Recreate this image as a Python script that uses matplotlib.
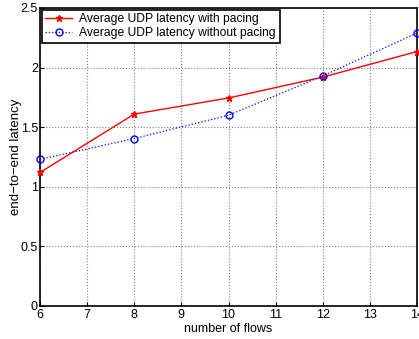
import matplotlib
matplotlib.use("Agg")
import matplotlib.pyplot as plt

plt.rcParams['font.family'] = ['Liberation Sans', 'DejaVu Sans']

# data
flows = [6, 8, 10, 12, 14]
latency_pacing = [1.12, 1.61, 1.745, 1.92, 2.135]
latency_no_pacing = [1.23, 1.405, 1.60, 1.93, 2.29]

fig = plt.figure(figsize=(4.19, 3.39), dpi=100)
ax = fig.add_axes([40/419, 1 - 306/339, 377/419, 298/339])

ax.plot(flows, latency_pacing, color='red', linestyle='-', linewidth=1,
        marker='*', markersize=4.5, label='Average UDP latency with pacing',
        clip_on=False, zorder=3)
ax.plot(flows, latency_no_pacing, color='blue', linestyle=':', linewidth=0.9,
        marker='o', markersize=5, markerfacecolor='none', markeredgewidth=1,
        label='Average UDP latency without pacing', clip_on=False, zorder=3)

ax.set_xlim(6, 14)
ax.set_ylim(0, 2.5)
ax.set_xticks(range(6, 15))
ax.set_yticks([0, 0.5, 1, 1.5, 2, 2.5])
ax.set_yticklabels(['0', '0.5', '1', '1.5', '2', '2.5'])
ax.tick_params(direction='in', labelsize=9, length=3)
ax.tick_params(axis='x', pad=2.5)
ax.tick_params(axis='y', pad=1.5)
ax.grid(True, linestyle=':', color='gray', linewidth=0.8)
for s in ax.spines.values():
    s.set_linewidth(1.2)

ax.set_xlabel('number of flows', fontsize=9, labelpad=1)
ax.set_ylabel('end\u2212to\u2212end latency', fontsize=9.5, labelpad=-1)

leg = ax.legend(loc='upper left', fontsize=8.7, fancybox=False, framealpha=1,
                edgecolor='black', borderpad=0.3, labelspacing=0.15,
                handlelength=2.2, handletextpad=0.6, borderaxespad=0.15)
leg.get_frame().set_linewidth(1.2)

fig.savefig('out.png', dpi=100)
